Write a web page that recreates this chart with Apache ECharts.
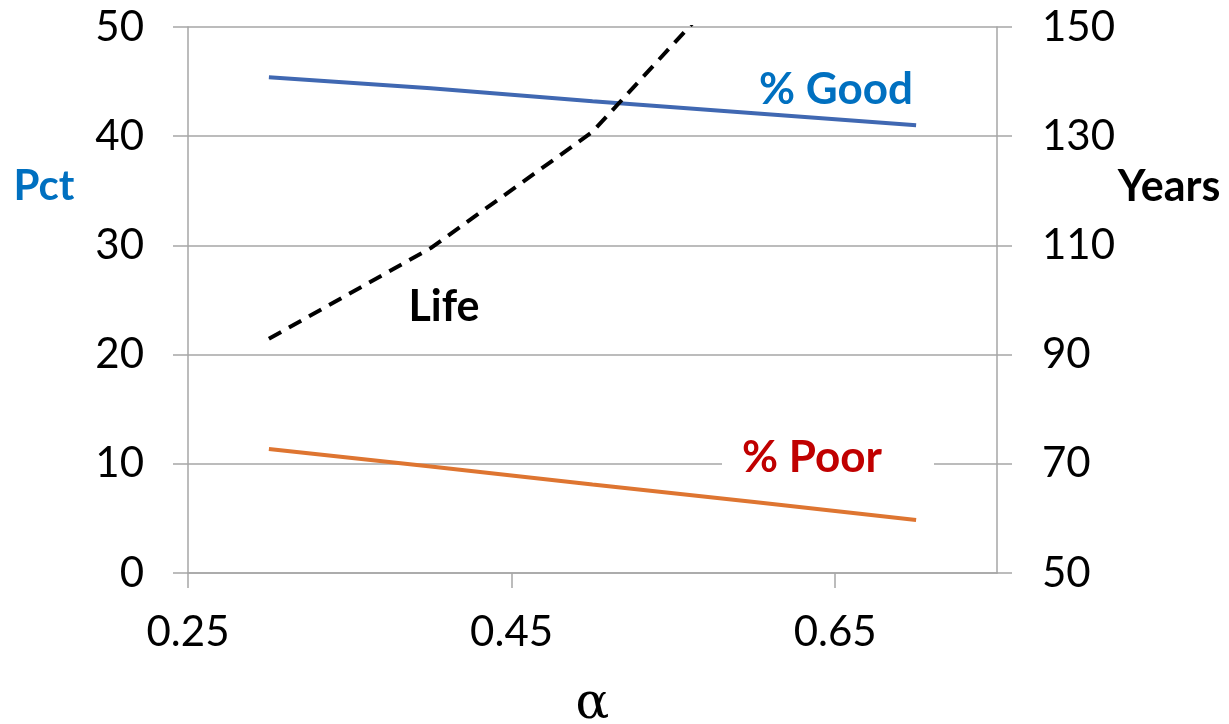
<!DOCTYPE html>
<html>
<head>
<meta charset="utf-8">
<script src="https://cdn.jsdelivr.net/npm/echarts@6/dist/echarts.min.js"></script>
<style>
html,body{margin:0;padding:0;background:#fff;}
#chart{width:1229px;height:724px;}
</style>
</head>
<body>
<div id="chart"></div>
<script>
// Data
const alpha = [0.30, 0.40, 0.50, 0.60, 0.70];
const pctGood = [45.4, 44.4, 43.2, 42.1, 41.0];
const pctPoor = [11.35, 9.75, 8.1, 6.5, 4.85];
const lifeYears = [92.9, 109.5, 130.8, 163, null];
const xTicks = [0.25, 0.45, 0.65];
const pctTicks = [0, 10, 20, 30, 40, 50];
const yearTicks = [50, 70, 90, 110, 130, 150];

const FONT = 'Lato';
const GRID_COLOR = '#a6a6a6';

const chart = echarts.init(document.getElementById('chart'), null, {renderer: 'canvas'});

function pairs(xs, ys) { return xs.map((x, i) => [x, ys[i]]); }

const option = {
  animation: false,
  backgroundColor: '#ffffff',
  grid: {left: 188, right: 232, top: 27, bottom: 151, containLabel: false, outerBoundsMode: 'none'},
  xAxis: {
    type: 'value',
    min: 0.25,
    max: 0.75,
    name: 'α',
    nameLocation: 'middle',
    nameGap: 107,
    nameTextStyle: {fontFamily: 'DejaVu Serif', fontSize: 50, color: '#000'},
    axisLine: {show: true, onZero: false, lineStyle: {color: GRID_COLOR, width: 1.5}},
    axisTick: {show: true, inside: false, length: 15, customValues: xTicks, lineStyle: {color: GRID_COLOR, width: 1.5}},
    axisLabel: {customValues: xTicks, margin: 38, fontFamily: FONT, fontSize: 42, color: '#000',
      formatter: v => v.toFixed(2)},
    splitLine: {show: false}
  },
  yAxis: [
    {
      type: 'value', position: 'left',
      min: pctTicks[0], max: pctTicks[pctTicks.length - 1], interval: 10,
      axisLine: {show: true, lineStyle: {color: GRID_COLOR, width: 1.5}},
      axisTick: {show: true, inside: false, length: 15, lineStyle: {color: GRID_COLOR, width: 1.5}},
      axisLabel: {margin: 44, fontFamily: FONT, fontSize: 42, color: '#000'},
      splitLine: {show: true, lineStyle: {color: GRID_COLOR, width: 1.5}}
    },
    {
      type: 'value', position: 'right',
      min: yearTicks[0], max: yearTicks[yearTicks.length - 1], interval: 20,
      axisLine: {show: true, lineStyle: {color: GRID_COLOR, width: 1.5}},
      axisTick: {show: true, inside: false, length: 15, lineStyle: {color: GRID_COLOR, width: 1.5}},
      axisLabel: {margin: 45, fontFamily: FONT, fontSize: 42, color: '#000'},
      splitLine: {show: false}
    }
  ],
  series: [
    {
      name: '% Good', type: 'line', yAxisIndex: 0,
      data: pairs(alpha, pctGood), showSymbol: false, symbol: 'none',
      lineStyle: {color: '#4068b2', width: 4}, z: 3
    },
    {
      name: '% Poor', type: 'line', yAxisIndex: 0,
      data: pairs(alpha, pctPoor), showSymbol: false, symbol: 'none',
      lineStyle: {color: '#de7531', width: 4}, z: 3
    },
    {
      name: 'Life', type: 'line', yAxisIndex: 1,
      data: pairs(alpha, lifeYears), showSymbol: false, symbol: 'none', clip: true,
      connectNulls: false,
      lineStyle: {color: '#000', width: 4, type: [14, 9]}, z: 4
    }
  ],
  graphic: [
    {type: 'text', z: 50, x: 44, y: 186,
      style: {text: 'Pct', fontFamily: FONT, fontWeight: 'bold', fontSize: 42, fill: '#0070c0', align: 'center', verticalAlign: 'middle'}},
    {type: 'text', z: 50, x: 1169, y: 187,
      style: {text: 'Years', fontFamily: FONT, fontWeight: 'bold', fontSize: 43, fill: '#000', align: 'center', verticalAlign: 'middle'}},
    {type: 'text', z: 50, x: 444, y: 307,
      style: {text: 'Life', fontFamily: FONT, fontWeight: 'bold', fontSize: 43, fill: '#000', align: 'center', verticalAlign: 'middle'}},
    {type: 'text', z: 50, x: 836, y: 90,
      style: {text: '% Good', fontFamily: FONT, fontWeight: 'bold', fontSize: 44, fill: '#0070c0', align: 'center', verticalAlign: 'middle'}},
    {type: 'rect', z: 49, shape: {x: 722, y: 438, width: 212, height: 42}, style: {fill: '#fff'}},
    {type: 'text', z: 50, x: 812, y: 458,
      style: {text: '% Poor', fontFamily: FONT, fontWeight: 'bold', fontSize: 44, fill: '#c00000', align: 'center', verticalAlign: 'middle'}}
  ]
};

chart.setOption(option);
</script>
</body>
</html>
